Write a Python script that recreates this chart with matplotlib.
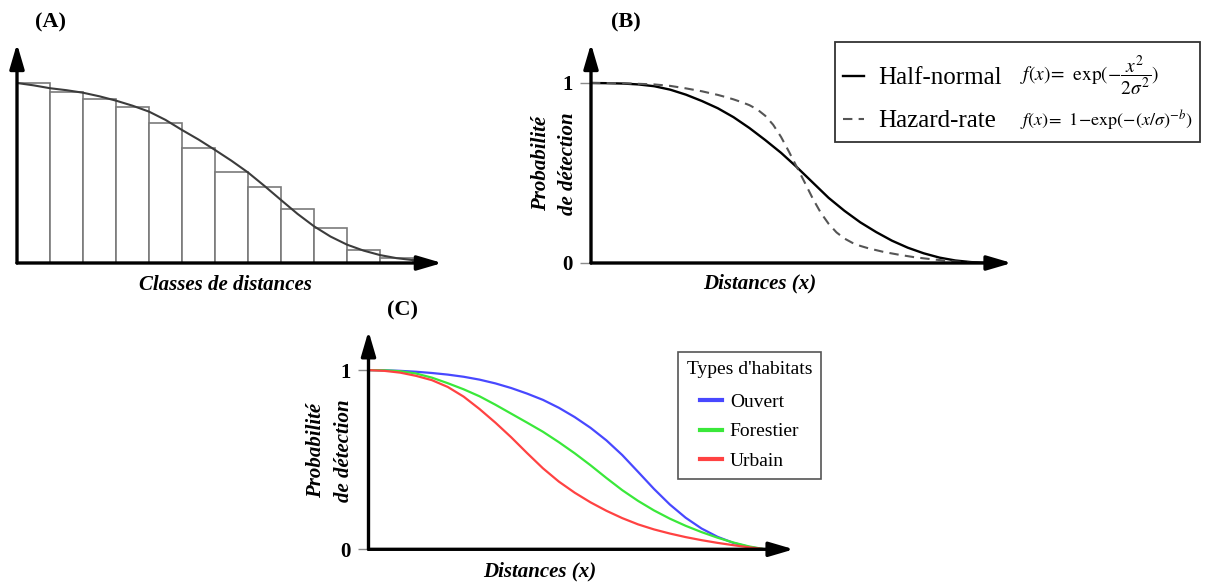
import matplotlib.pyplot as plt
import matplotlib.patches as mpatches
import numpy as np

plt.rcParams['font.family'] = 'serif'
plt.rcParams['font.serif'] = ['Liberation Serif']
plt.rcParams['mathtext.fontset'] = 'stix'

W, H = 1208, 582

#==========================================================================
# (A) distance classes histogram + fitted curve
class_heights = [1.0, 0.948, 0.909, 0.868, 0.776, 0.641, 0.507, 0.424, 0.30, 0.193, 0.072, 0.03]
curve_a_x = [0, 0.5, 1, 1.5, 2, 2.5, 3, 3.5, 4, 4.5, 5, 5.5, 6, 6.5, 7, 7.5, 8, 8.5, 9, 9.5,
             10, 10.5, 11, 11.5, 12]
curve_a_y = [1.0, 0.987, 0.971, 0.96, 0.946, 0.926, 0.902, 0.874, 0.841, 0.795, 0.739, 0.686,
             0.628, 0.568, 0.503, 0.428, 0.35, 0.273, 0.204, 0.147, 0.102, 0.069, 0.044, 0.027, 0.016]

# (B) half-normal vs hazard-rate
hn_x = [0, 0.04, 0.08, 0.12, 0.16, 0.20, 0.24, 0.28, 0.32, 0.36, 0.40, 0.44, 0.48, 0.52, 0.56,
        0.60, 0.64, 0.68, 0.72, 0.76, 0.80, 0.84, 0.88, 0.92, 0.96, 1.0]
hn_y = [1.0, 0.999, 0.997, 0.992, 0.982, 0.963, 0.935, 0.900, 0.860, 0.810, 0.750, 0.683, 0.612,
        0.532, 0.447, 0.362, 0.290, 0.226, 0.172, 0.124, 0.085, 0.054, 0.030, 0.014, 0.005, 0.0]
hr_x = [0, 0.08, 0.16, 0.20, 0.24, 0.28, 0.32, 0.34, 0.36, 0.38, 0.40, 0.42, 0.44, 0.46, 0.48,
        0.50, 0.52, 0.54, 0.56, 0.58, 0.60, 0.62, 0.64, 0.66, 0.68, 0.70, 0.74, 0.78, 0.82, 0.86,
        0.90, 0.94, 0.97, 1.0]
hr_y = [1.0, 0.999, 0.992, 0.984, 0.970, 0.954, 0.934, 0.922, 0.909, 0.894, 0.877, 0.853, 0.818,
        0.768, 0.700, 0.618, 0.532, 0.446, 0.358, 0.280, 0.218, 0.170, 0.136, 0.112, 0.095, 0.082,
        0.061, 0.045, 0.031, 0.021, 0.012, 0.005, 0.001, 0.0]
model_names = ['Half-normal', 'Hazard-rate']
model_formulas = [r'$f(x)\!=\;\,\exp(-\dfrac{x^2}{2\sigma^2})$', r'$f(x)\!=\;\,1\!-\!\exp(-(x/\sigma)^{-b})$']

# (C) habitat types
habitats = ['Ouvert', 'Forestier', 'Urbain']
dist_c = [0, 0.04, 0.08, 0.12, 0.16, 0.20, 0.24, 0.28, 0.32, 0.36, 0.40, 0.44, 0.48, 0.52, 0.56,
          0.60, 0.64, 0.68, 0.72, 0.76, 0.80, 0.84, 0.88, 0.92, 0.96, 1.0]
ouvert_y = [1.0, 0.999, 0.996, 0.991, 0.984, 0.975, 0.963, 0.947, 0.926, 0.900, 0.869, 0.834, 0.790,
            0.738, 0.678, 0.608, 0.526, 0.432, 0.337, 0.250, 0.176, 0.116, 0.070, 0.036, 0.013, 0.0]
forest_y = [1.0, 0.999, 0.994, 0.981, 0.958, 0.927, 0.893, 0.854, 0.807, 0.757, 0.707, 0.656, 0.598,
            0.536, 0.469, 0.398, 0.330, 0.270, 0.217, 0.171, 0.131, 0.096, 0.065, 0.038, 0.016, 0.0]
urbain_y = [1.0, 0.996, 0.986, 0.968, 0.944, 0.906, 0.852, 0.783, 0.707, 0.625, 0.537, 0.452, 0.378,
            0.316, 0.262, 0.215, 0.174, 0.139, 0.111, 0.088, 0.068, 0.051, 0.036, 0.023, 0.011, 0.0]
habitat_colors = ['#4848ff', '#3ae83a', '#ff4242']


#==========================================================================
def px_rect(left, bottom, width, height):
    return [left / W, 1 - bottom / H, width / W, height / H]


def bare_axes(ax, xmax, ymax):
    ax.set_xlim(0, xmax)
    ax.set_ylim(0, ymax)
    for spine in ax.spines.values():
        spine.set_visible(False)
    ax.set_xticks([])
    ax.set_yticks([])
    ax.patch.set_alpha(0)
    # arrows a little past the limits so the tips land where the reference has them
    for end in [(xmax * 1.012, 0), (0, ymax * 1.015)]:
        ax.annotate('', xy=end, xytext=(0, 0), annotation_clip=False, zorder=5,
                    arrowprops=dict(arrowstyle='-|>,head_length=0.75,head_width=0.22', color='black',
                                    lw=2.4, shrinkA=0, shrinkB=0, mutation_scale=20))


def prob_axis(ax, ylabel_x):
    ax.set_yticks([0, 1])
    ax.set_yticklabels(['0', '1'], fontsize=15, fontweight='bold')
    ax.tick_params(axis='y', length=8, width=1, color='#8a8a8a', pad=5)
    ax.text(ylabel_x, 0.46, 'Probabilité\nde détection', transform=ax.transAxes, rotation=90,
            ha='center', va='center', fontsize=15, fontweight='bold', fontstyle='italic',
            linespacing=1.5)


label_font = dict(fontsize=15, fontweight='bold', fontstyle='italic', ha='center', va='center')

fig = plt.figure(figsize=(W / 100, H / 100), dpi=100)

# ---- (A)
ax_a = fig.add_axes(px_rect(17, 263, 33 * 12.73, 216))
bare_axes(ax_a, 12.73, 1.2)
ax_a.bar(np.arange(len(class_heights)) + 0.5, class_heights, width=1.0,
         facecolor='white', edgecolor='#7a7a7a', lw=1.2)
ax_a.plot(curve_a_x, curve_a_y, color='#3c3c3c', lw=1.5)
ax_a.text(0.495, -0.10, 'Classes de distances', transform=ax_a.transAxes, **label_font)

# ---- (B)
ax_b = fig.add_axes(px_rect(591, 263, 396 * 1.05, 216))
bare_axes(ax_b, 1.05, 1.2)
prob_axis(ax_b, -0.088)
line_hn, = ax_b.plot(hn_x, hn_y, color='black', lw=1.7)
line_hr, = ax_b.plot(hr_x, hr_y, color='#555555', lw=1.5, linestyle=(0, (4.5, 3)))
ax_b.text(0.405, -0.093, 'Distances (x)', transform=ax_b.transAxes, **label_font)

# legend box of (B), drawn by hand so the formulas fit inside
fig.patches.append(mpatches.Rectangle((835 / W, 1 - 142 / H), 365 / W, 100 / H, transform=fig.transFigure,
                                      facecolor='white', edgecolor='#333333', lw=1.3, zorder=1))
leg_b = fig.legend([line_hn, line_hr], model_names, loc='center left',
                   bbox_to_anchor=(843 / W, 1 - 99.5 / H), frameon=False, borderpad=0,
                   borderaxespad=0, prop={'family': 'Liberation Serif', 'size': 18},
                   handlelength=0.85, handletextpad=0.55, labelspacing=0.82)
for name_y, formula, fsize in zip([76, 121], model_formulas, [14, 13]):
    fig.text(1020 / W, 1 - name_y / H, formula, fontsize=fsize, ha='left', va='center', zorder=10)

# ---- (C)
ax_c = fig.add_axes(px_rect(368.5, 549.3, 396.5 * 1.06, 215))
bare_axes(ax_c, 1.06, 1.2)
prob_axis(ax_c, -0.092)
for ys, name, col in zip([ouvert_y, forest_y, urbain_y], habitats, habitat_colors):
    ax_c.plot(dist_c, ys, color=col, lw=1.6, label=name)
ax_c.text(0.408, -0.105, 'Distances (x)', transform=ax_c.transAxes, **label_font)

leg_c = ax_c.legend(title="Types d'habitats", loc='upper left',
                    bbox_to_anchor=(678 / W, 1 - 352 / H), bbox_transform=fig.transFigure,
                    borderaxespad=0, prop={'family': 'Liberation Serif', 'size': 14},
                    title_fontproperties={'family': 'Liberation Serif', 'size': 14},
                    fancybox=False, edgecolor='#555555', framealpha=1, handlelength=1.13,
                    handletextpad=0.42, labelspacing=0.62, borderpad=0.45)
leg_c.get_frame().set_linewidth(1.2)
leg_c._legend_box.sep = 11
for h in leg_c.legend_handles:
    h.set_linewidth(3)

# ---- panel letters
for letter, (lx, ly) in zip(['(A)', '(B)', '(C)'], [(51, 22), (626, 22), (403, 310)]):
    fig.text(lx / W, 1 - ly / H, letter, fontsize=16, fontweight='bold', ha='center', va='center')

fig.savefig('out.png', dpi=100)
